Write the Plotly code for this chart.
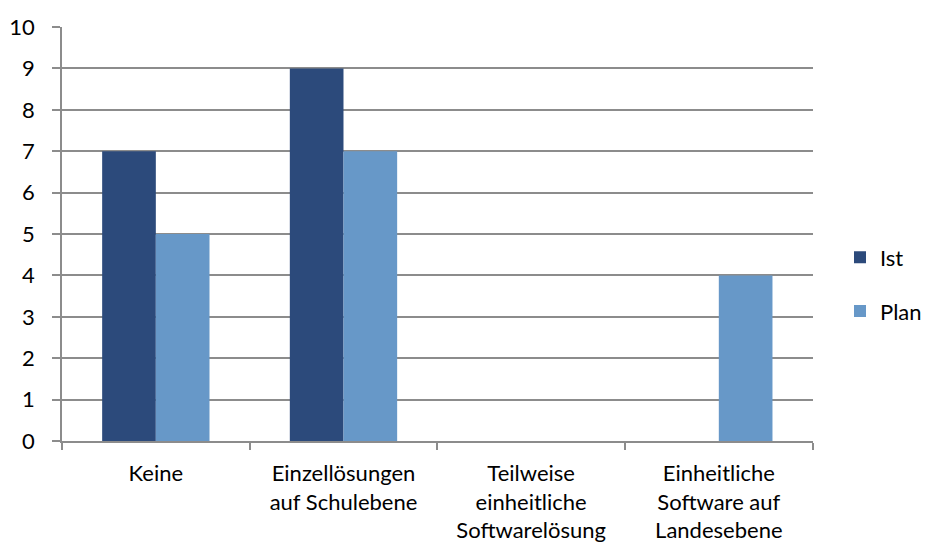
import plotly.graph_objects as go

categories = ["Keine", "Einzellösungen<br>auf Schulebene", "Teilweise<br>einheitliche<br>Softwarelösung", "Einheitliche<br>Software auf<br>Landesebene"]
ist = [7, 9, 0, 0]
plan = [5, 7, 0, 4]
y_ticks = list(range(0, 11))

pos = list(range(len(categories)))
font = dict(family="Lato, 'Open Sans', sans-serif", size=22, color="#000000")
grid = "#8C8C8C"

fig = go.Figure()
fig.add_trace(go.Bar(x=pos, y=ist, name="Ist", marker=dict(color="#2C4A7B", line=dict(width=0)),
                     legendgroup="a"))
fig.add_trace(go.Bar(x=pos, y=plan, name="Plan", marker=dict(color="#6798C8", line=dict(width=0)),
                     legendgroup="b"))

fig.update_layout(
    width=927, height=552,
    margin=dict(l=62, r=0, t=27, b=111),
    paper_bgcolor="white", plot_bgcolor="white",
    barmode="group", bargap=0.428, bargroupgap=0,
    font=font,
    legend=dict(x=0.905, y=0.378, xanchor="left", yanchor="middle",
                traceorder="grouped", tracegroupgap=22, font=dict(size=22),
                itemwidth=30, bgcolor="rgba(0,0,0,0)"),
    xaxis=dict(domain=[0, 755 / 865], range=[-0.5, len(categories) - 0.5],
               tickmode="array", tickvals=pos, ticktext=categories, ticks="",
               ticklabelstandoff=12, showgrid=False, zeroline=False,
               showline=True, linecolor=grid, linewidth=1.5,
               minor=dict(tick0=-0.5, dtick=1, ticks="outside", ticklen=7,
                          tickcolor=grid, tickwidth=1.5, showgrid=False)),
    yaxis=dict(range=[0, 10], tickvals=y_ticks, ticks="outside", ticklen=8,
               ticklabelstandoff=13,
               tickcolor=grid, tickwidth=1.5, showgrid=True, gridcolor=grid,
               gridwidth=1.5, zeroline=False, showline=True, linecolor=grid,
               linewidth=1.5),
)
fig.write_html("out.html")
